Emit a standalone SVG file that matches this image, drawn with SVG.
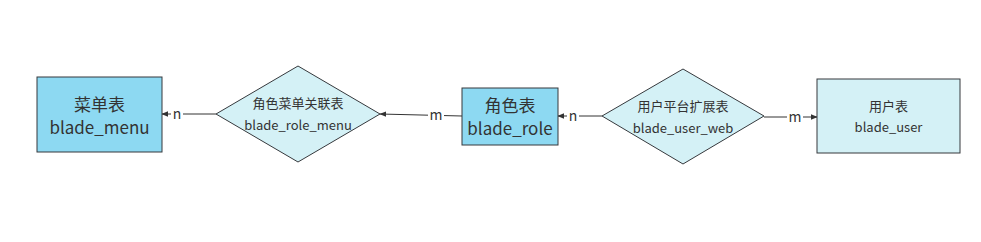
<svg xmlns="http://www.w3.org/2000/svg" width="981" height="242" viewBox="0 0 981 242">
<defs>
<style>
.ent{fill:#8dd9f2;stroke:#36393d;stroke-width:1}
.ent2{fill:#d4f1f6;stroke:#36393d;stroke-width:1}
.rel{fill:#d4f1f6;stroke:#36393d;stroke-width:1}
text{font-family:"Microsoft YaHei","Noto Sans CJK SC","Noto Sans",sans-serif;fill:#333;text-anchor:middle}
.big{font-size:17px}
.small{font-size:13px}
.lbl{font-size:14px}
.edge{stroke:#333;stroke-width:1;fill:none;marker-end:url(#arr)}
.lblbg{fill:#fff}
</style>
<marker id="arr" viewBox="0 0 10 10" refX="9" refY="5" markerWidth="7" markerHeight="7" orient="auto" markerUnits="userSpaceOnUse">
<path d="M0,1 L10,5 L0,9 Z" fill="#333"/>
</marker>
</defs>
<rect width="981" height="242" fill="#fff"/>
<g id="connectors">
<path class="edge" d="M216,114 L162,114"/>
<rect class="lblbg" x="171" y="106" width="12" height="16"/>
<text class="lbl" x="177" y="119">n</text>
<path class="edge" d="M462,116 L380,114"/>
<rect class="lblbg" x="428" y="107" width="16" height="16"/>
<text class="lbl" x="436" y="120">m</text>
<path class="edge" d="M602,116 L558,116"/>
<rect class="lblbg" x="567" y="108" width="12" height="16"/>
<text class="lbl" x="573" y="121">n</text>
<path class="edge" d="M764,117 L817,117"/>
<rect class="lblbg" x="787" y="109" width="16" height="16"/>
<text class="lbl" x="795" y="122">m</text>
</g>
<g id="blade_menu">
<rect class="ent" x="37" y="77" width="125" height="75"/>
<text class="big" x="99.5" y="111">菜单表</text>
<text class="big" x="99.5" y="134">blade_menu</text>
</g>
<g id="blade_role_menu">
<polygon class="rel" points="298,66 380,114 298,162 216,114"/>
<text class="small" x="298" y="108">角色菜单关联表</text>
<text class="small" x="298" y="130">blade_role_menu</text>
</g>
<g id="blade_role">
<rect class="ent" x="462" y="88" width="96" height="57"/>
<text class="big" x="510" y="112">角色表</text>
<text class="big" x="510" y="135">blade_role</text>
</g>
<g id="blade_user_web">
<polygon class="rel" points="683,69 764,116 683,164 602,116"/>
<text class="small" x="683" y="111">用户平台扩展表</text>
<text class="small" x="683" y="133">blade_user_web</text>
</g>
<g id="blade_user">
<rect class="ent2" x="817" y="79" width="143" height="74"/>
<text class="small" x="888.5" y="111">用户表</text>
<text class="small" x="888.5" y="132">blade_user</text>
</g>
</svg>
